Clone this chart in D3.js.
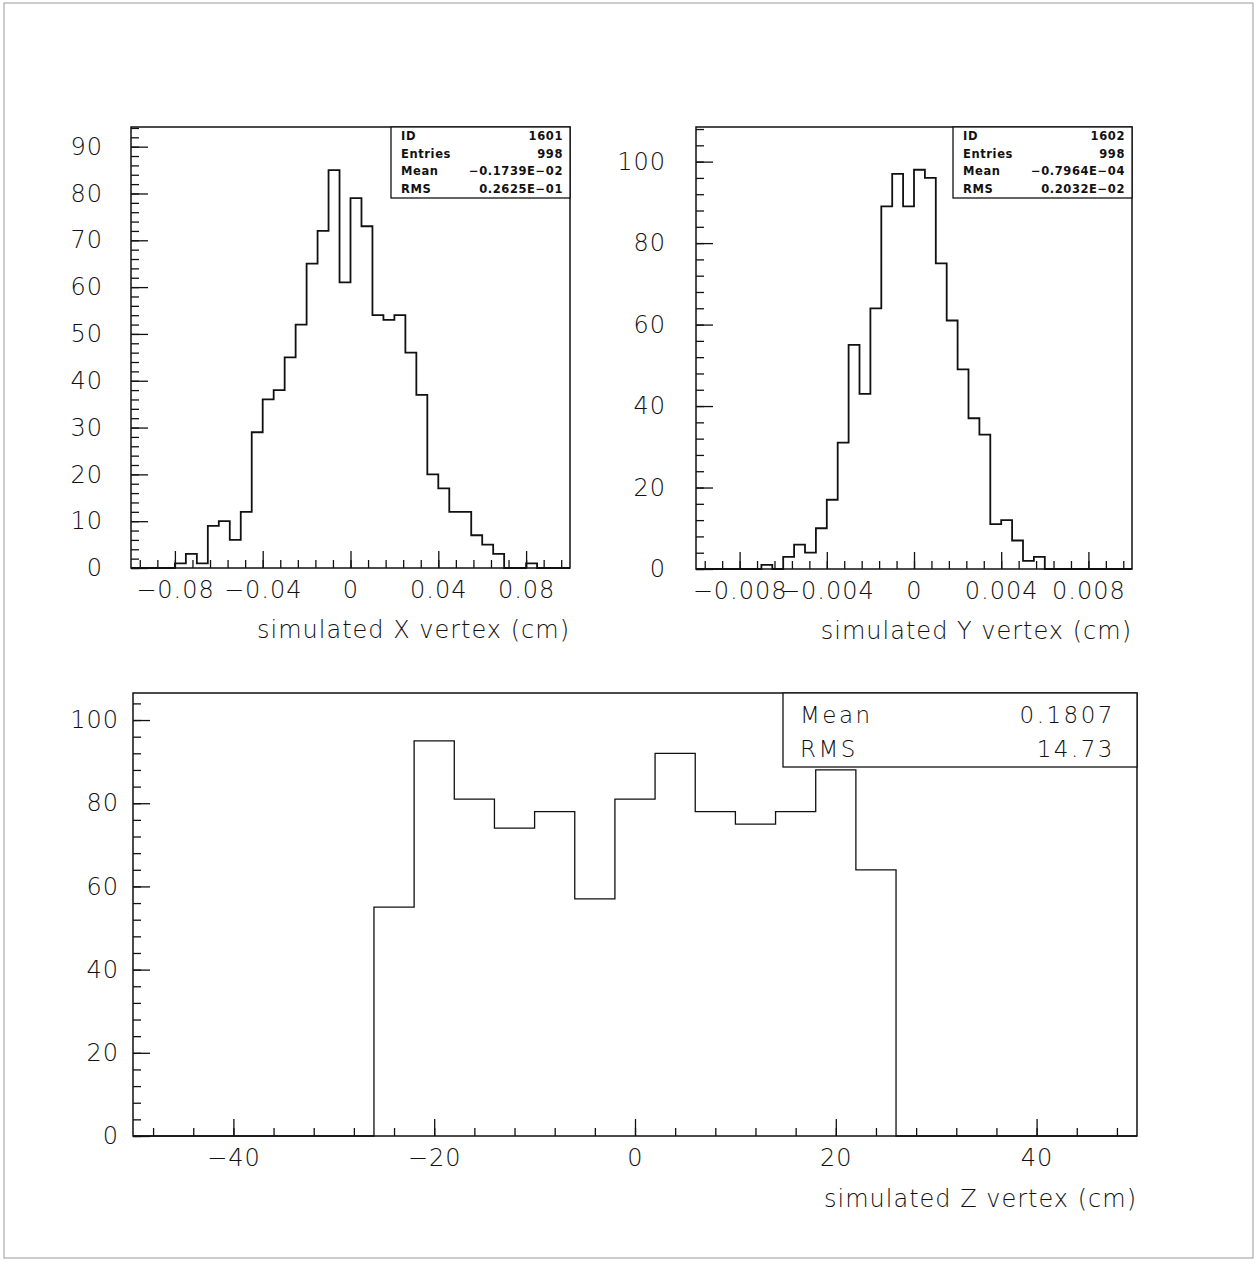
<!DOCTYPE html>
<html lang="en">
<head>
<meta charset="UTF-8">
<title>simulated vertex histograms</title>
<style>
  body { margin: 0; background: #fff; }
  text { font-family: "DejaVu Sans", sans-serif; font-weight: 200; fill: #111; }
</style>
</head>
<body>
<svg id="svg" width="1258" height="1264"></svg>
<script src="https://d3js.org/d3.v7.min.js"></script>
<script>
// ---- data ----
// X vertex: 40 bins of 0.005 from -0.1 to 0.1
const xBinStart = -0.1, xBinWidth = 0.005
const xCounts = [0, 0, 0, 0, 1, 3, 1, 9, 10, 6, 12, 29, 36, 38, 45, 52, 65, 72, 85, 61,
                 79, 73, 54, 53, 54, 46, 37, 20, 17, 12, 12, 7, 5, 3, 0, 0, 1, 0, 0, 0]
const xStats = [['ID', '1601'], ['Entries', '998'], ['Mean', '−0.1739E−02'], ['RMS', '0.2625E−01']]
const xTickLabels = [-0.08, -0.04, 0, 0.04, 0.08]

// Y vertex: 40 bins of 0.0005 from -0.01 to 0.01
const yBinStart = -0.01, yBinWidth = 0.0005
const yCounts = [0, 0, 0, 0, 0, 0, 1, 0, 3, 6, 4, 10, 17, 31, 55, 43, 64, 89, 97, 89,
                 98, 96, 75, 61, 49, 37, 33, 11, 12, 7, 2, 3, 0, 0, 0, 0, 0, 0, 0, 0]
const yStats = [['ID', '1602'], ['Entries', '998'], ['Mean', '−0.7964E−04'], ['RMS', '0.2032E−02']]
const yTickLabels = [-0.008, -0.004, 0, 0.004, 0.008]

// Z vertex: 25 bins of 4 from -50 to 50
const zBinStart = -50, zBinWidth = 4
const zCounts = [0, 0, 0, 0, 0, 0, 55, 95, 81, 74, 78, 57, 81, 92, 78, 75, 78, 88, 64,
                 0, 0, 0, 0, 0, 0]
const zStats = [['Mean', '0.1807'], ['RMS', '14.73']]
const zTickLabels = [-40, -20, 0, 20, 40]

const svg = d3.select('#svg')

// faint page border
svg.append('rect')
  .attr('x', 4).attr('y', 3).attr('width', 1249).attr('height', 1255)
  .attr('fill', 'none').attr('stroke', '#999').attr('stroke-width', 1)

const fmt = v => (v < 0 ? '−' : '') + String(Math.abs(v))

function drawHist(c) {
  const g = svg.append('g')
  const x = d3.scaleLinear().domain(c.xDomain).range([c.left, c.right])
  const y = d3.scaleLinear().domain([0, c.yMax]).range([c.bottom, c.top])

  // minor ticks
  g.append('g')
    .attr('transform', `translate(0,${c.bottom})`)
    .call(d3.axisBottom(x).tickValues(d3.range(c.xMinorFrom, c.xDomain[1] + 1e-9, c.xMinor)).tickSize(-8).tickFormat(''))
    .call(a => a.select('.domain').remove())
  g.append('g')
    .attr('transform', `translate(${c.left},0)`)
    .call(d3.axisLeft(y).tickValues(d3.range(0, c.yMax, c.yMinor)).tickSize(-8).tickFormat(''))
    .call(a => a.select('.domain').remove())

  // major ticks with labels
  g.append('g')
    .attr('transform', `translate(0,${c.bottom})`)
    .call(d3.axisBottom(x).tickValues(c.xMajor).tickSize(-17).tickPadding(c.xPad).tickFormat(fmt))
    .call(a => a.select('.domain').remove())
  g.append('g')
    .attr('transform', `translate(${c.left},0)`)
    .call(d3.axisLeft(y).tickValues(d3.range(0, c.yMax, c.yMajor)).tickSize(-17).tickPadding(c.yPad).tickFormat(fmt))
    .call(a => a.select('.domain').remove())

  g.selectAll('.tick line').attr('stroke', '#111').attr('stroke-width', 1.3)
  g.selectAll('.tick text')
    .attr('font-size', 24).attr('letter-spacing', 1)
    .style('font-family', '"DejaVu Sans", sans-serif').style('font-weight', 200).attr('fill', '#111')

  // histogram outline
  const pts = [[c.binStart, 0]]
  c.counts.forEach((v, i) => pts.push([c.binStart + i * c.binWidth, v]))
  const end = c.binStart + c.counts.length * c.binWidth
  pts.push([end, c.counts[c.counts.length - 1]], [end, 0])
  g.append('path')
    .attr('d', d3.line().x(d => x(d[0])).y(d => y(d[1])).curve(d3.curveStepAfter)(pts))
    .attr('fill', 'none').attr('stroke', '#111').attr('stroke-width', c.lineWidth)

  // frame
  g.append('rect')
    .attr('x', c.left).attr('y', c.top)
    .attr('width', c.right - c.left).attr('height', c.bottom - c.top)
    .attr('fill', 'none').attr('stroke', '#111').attr('stroke-width', 1.5)

  // stats box
  const b = c.box
  g.append('rect')
    .attr('x', b.x).attr('y', c.top).attr('width', c.right - b.x).attr('height', b.h)
    .attr('fill', '#fff').attr('stroke', '#111').attr('stroke-width', 1.3)
  c.stats.forEach((s, i) => {
    const yy = c.top + b.row0 + i * b.step
    g.append('text').attr('x', b.x + b.padL).attr('y', yy)
      .attr('dy', '0.35em').attr('font-size', b.font).attr('letter-spacing', b.ls)
      .style('font-weight', b.weight).text(s[0])
    g.append('text').attr('x', c.right - b.padR).attr('y', yy)
      .attr('dy', '0.35em').attr('font-size', b.font).attr('letter-spacing', b.ls)
      .attr('text-anchor', 'end').style('font-weight', b.weight).text(s[1])
  })

  // axis title
  g.append('text')
    .attr('x', c.right).attr('y', c.titleY).attr('dy', '0.35em')
    .attr('text-anchor', 'end').attr('font-size', 24).attr('letter-spacing', 1)
    .text(c.title)
}

drawHist({
  left: 131, right: 570, top: 127, bottom: 568,
  xDomain: [-0.1, 0.1], xMinorFrom: -0.096, xMinor: 0.008, xMajor: xTickLabels, xPad: 13,
  yMax: 94.2, yMinor: 2, yMajor: 10, yPad: 28,
  binStart: xBinStart, binWidth: xBinWidth, counts: xCounts, lineWidth: 1.8,
  stats: xStats,
  box: { x: 391, h: 71, row0: 9, step: 17.7, padL: 10, padR: 7, font: 11.5, ls: 0.6, weight: 600 },
  title: 'simulated X vertex (cm)', titleY: 630
})

drawHist({
  left: 696, right: 1132, top: 127, bottom: 569,
  xDomain: [-0.01, 0.01], xMinorFrom: -0.0096, xMinor: 0.0008, xMajor: yTickLabels, xPad: 13,
  yMax: 108.5, yMinor: 4, yMajor: 20, yPad: 30,
  binStart: yBinStart, binWidth: yBinWidth, counts: yCounts, lineWidth: 1.8,
  stats: yStats,
  box: { x: 953, h: 71, row0: 9, step: 17.7, padL: 10, padR: 7, font: 11.5, ls: 0.6, weight: 600 },
  title: 'simulated Y vertex (cm)', titleY: 631
})

drawHist({
  left: 133, right: 1137, top: 693, bottom: 1136,
  xDomain: [-50, 50], xMinorFrom: -48, xMinor: 4, xMajor: zTickLabels, xPad: 13,
  yMax: 106.5, yMinor: 4, yMajor: 20, yPad: 14,
  binStart: zBinStart, binWidth: zBinWidth, counts: zCounts, lineWidth: 1.3,
  stats: zStats,
  box: { x: 783, h: 74, row0: 22, step: 34, padL: 17, padR: 22, font: 23, ls: 2.5, weight: 200 },
  title: 'simulated Z vertex (cm)', titleY: 1199
})
</script>
</body>
</html>
